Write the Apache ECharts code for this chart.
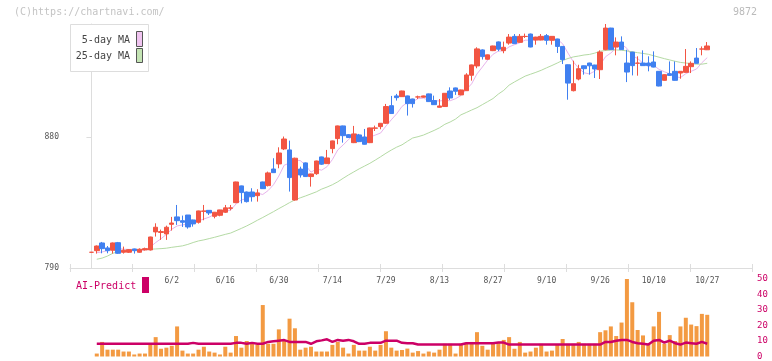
<!DOCTYPE html>
<html><head><meta charset="utf-8">
<script src="https://cdn.jsdelivr.net/npm/echarts@6/dist/echarts.min.js"></script>
<style>html,body{margin:0;padding:0;background:#fff;}#c{width:772px;height:361px;}</style>
</head><body><div id="c"></div>
<script>
const dates = ['5/12','5/13','5/14','5/15','5/16','5/19','5/20','5/21','5/22','5/23','5/26','5/27','5/28','5/29','5/30',
'6/2','6/3','6/4','6/5','6/6','6/9','6/10','6/11','6/12','6/13','6/16','6/17','6/18','6/19','6/20','6/23','6/24','6/25','6/26','6/27','6/30',
'7/1','7/2','7/3','7/4','7/7','7/8','7/9','7/10','7/11','7/14','7/15','7/16','7/17','7/18','7/22','7/23','7/24','7/25','7/28','7/29','7/30','7/31',
'8/1','8/4','8/5','8/6','8/7','8/8','8/12','8/13','8/14','8/15','8/18','8/19','8/20','8/21','8/22','8/25','8/26','8/27','8/28','8/29',
'9/1','9/2','9/3','9/4','9/5','9/8','9/9','9/10','9/11','9/12','9/16','9/17','9/18','9/19','9/22','9/24','9/25','9/26','9/29','9/30',
'10/1','10/2','10/3','10/6','10/7','10/8','10/9','10/10','10/14','10/15','10/16','10/17','10/20','10/21','10/22','10/23','10/24','10/27'];
const opens = [800.8,801.9,807.2,803.8,802.2,807.4,800.8,800.8,803.1,800.8,802.4,802.4,814.8,814.4,813.4,820.0,825.1,822.5,826.4,823.0,
821.4,828.9,829.6,825.5,826.2,828.3,831.0,834.9,846.4,842.2,842.2,839.7,849.1,846.6,858.0,861.5,871.8,871.1,836.7,858.0,
862.2,852.8,854.8,866.3,861.7,872.0,878.9,887.6,881.6,876.1,881.4,880.0,876.1,886.0,887.1,889.4,901.5,908.2,907.7,908.2,
906.1,907.5,907.3,909.6,905.0,900.4,900.9,911.6,913.7,908.9,911.8,922.4,928.8,939.8,933.4,939.3,945.3,939.3,944.5,949.1,
945.0,949.0,950.7,946.6,946.6,949.6,946.4,947.3,942.2,929.6,911.8,919.8,928.9,930.8,929.4,926.2,940.0,954.8,941.8,945.2,
930.8,938.3,930.6,930.8,930.8,931.5,925.1,918.9,923.5,925.1,923.9,924.4,928.3,934.2,940.4,939.9];
const closes = [800.8,805.1,803.3,801.9,807.2,800.1,802.2,802.6,801.9,802.9,803.3,811.3,818.0,815.0,818.0,820.9,822.5,821.4,818.2,820.3,
829.2,829.2,827.8,828.3,829.9,831.3,831.3,849.1,841.8,835.6,839.0,841.6,844.5,855.3,855.5,869.0,878.6,852.1,865.4,853.9,
852.8,854.6,863.5,861.3,865.6,877.3,887.6,880.9,879.6,882.1,876.8,875.0,886.2,886.2,889.4,900.9,896.1,907.0,911.6,902.9,
902.9,907.5,908.2,904.3,902.2,901.3,910.0,906.8,911.4,912.3,922.6,929.5,940.5,935.2,936.4,942.5,940.3,941.6,948.6,944.1,
949.1,949.1,941.8,948.6,949.1,946.4,949.1,942.2,933.1,917.0,916.6,926.9,926.9,928.9,926.7,938.3,954.8,940.0,945.2,940.0,
924.6,929.0,930.8,929.0,929.0,928.0,915.0,922.8,922.3,918.9,925.1,928.5,930.6,930.6,940.4,942.5];
const lows = [800.5,799.9,800.1,800.1,799.9,799.7,799.9,800.3,799.9,800.5,802.0,802.0,811.6,809.3,809.3,815.7,819.6,818.2,817.0,818.4,
820.5,822.8,826.4,824.1,825.5,827.8,829.6,834.5,834.4,835.0,835.6,835.6,844.3,846.0,855.3,858.5,871.0,842.5,836.3,852.1,
852.5,845.9,854.0,860.8,861.5,868.8,875.0,876.1,879.3,875.8,876.5,874.8,875.8,884.1,885.3,889.0,895.9,905.0,907.5,894.7,
900.2,906.1,907.0,904.1,902.0,900.2,900.6,905.4,908.9,908.7,911.6,918.7,927.2,933.2,933.0,939.0,938.9,937.5,943.4,943.9,
944.8,948.0,941.6,943.4,946.4,943.4,943.4,937.7,930.1,905.6,911.3,918.9,922.8,922.8,920.5,919.8,939.5,939.8,936.1,939.8,
917.7,922.3,922.1,928.8,925.1,927.8,914.8,918.7,922.1,918.7,920.0,924.2,923.9,930.4,936.1,939.7];
const highs = [801.0,805.5,807.9,805.1,807.5,807.9,804.7,803.0,803.3,803.5,804.0,811.5,820.7,816.4,819.1,825.1,833.3,826.0,826.4,823.2,
829.4,833.3,829.8,828.5,830.0,833.3,833.3,849.3,846.6,842.5,844.8,844.1,849.3,856.2,865.4,872.9,880.3,877.5,865.8,859.6,
862.5,854.8,863.7,866.5,871.1,877.5,887.8,887.8,882.0,887.6,882.1,885.5,886.4,887.8,889.6,902.7,908.2,909.6,911.8,908.4,
906.3,908.4,908.4,909.8,908.4,906.1,910.2,914.1,913.9,912.5,923.8,929.7,941.6,940.2,936.6,942.7,945.6,945.5,950.7,950.7,
950.7,951.0,951.0,948.8,950.7,950.7,949.3,947.5,942.4,929.8,932.4,929.6,929.1,931.0,929.6,939.5,957.6,955.0,948.4,949.1,
939.9,938.5,935.4,939.5,935.4,938.8,925.3,923.0,931.9,931.9,925.3,940.4,931.9,941.1,942.2,945.2];
const ma5 = ['-',800.5,801.0,802.0,803.7,803.5,802.9,802.8,802.8,801.9,802.6,804.4,807.5,810.1,813.1,816.6,818.9,819.6,820.2,820.7,
822.3,823.7,824.9,827.0,828.9,829.3,829.7,834.0,836.7,837.8,839.4,841.4,840.5,843.2,847.2,853.2,860.6,862.1,864.1,863.8,
860.6,855.8,858.0,857.2,859.6,864.5,871.1,874.5,878.2,881.5,881.4,878.9,879.9,881.3,882.7,887.5,891.8,895.9,901.0,903.7,
904.1,906.4,906.6,905.2,905.0,904.7,905.2,904.9,906.3,908.4,912.6,916.5,923.3,928.0,932.8,936.8,939.0,939.2,941.9,943.4,
944.7,946.5,946.5,946.5,947.5,947.0,947.0,947.1,944.0,937.6,931.6,927.2,924.1,923.3,925.2,929.5,935.1,937.7,941.0,943.7,
940.9,935.8,933.9,930.7,928.5,929.2,926.4,924.8,923.4,921.4,920.8,923.5,925.1,926.7,931.0,934.5];
const ma25 = ['-',796.0,796.8,798.2,800.1,801.2,802.0,802.5,802.6,802.7,802.8,802.9,803.1,803.3,803.6,804.2,804.7,805.2,806.2,807.5,
808.6,809.3,810.2,811.1,812.1,813.1,814.0,815.6,817.2,818.9,820.8,822.8,824.7,826.7,828.7,830.8,832.8,834.9,836.8,838.2,
839.5,840.9,842.3,844.2,845.6,847.2,849.2,851.6,853.9,856.0,858.1,860.0,861.9,864.1,866.4,868.8,871.0,873.0,874.6,877.0,
879.3,880.2,881.3,882.9,884.5,886.3,888.7,890.3,892.3,895.2,896.8,898.5,900.1,902.2,904.3,906.4,909.5,912.0,915.6,917.8,
919.8,921.8,923.1,924.4,925.8,927.5,929.1,930.8,932.6,933.9,935.0,935.6,936.3,936.7,937.6,938.9,939.4,939.7,939.8,939.6,
939.1,938.5,937.9,937.4,936.8,935.8,934.8,933.8,932.9,932.0,931.2,930.8,930.4,930.0,930.0,930.6];
const volume = ['-',1.9,9.4,4.4,4.4,4.4,3.2,3.2,1.3,1.9,1.9,7.5,12.5,5.0,5.7,6.9,19.4,3.8,1.9,1.9,
4.4,6.3,3.2,2.5,1.3,6.3,2.5,13.2,5.7,10.0,8.2,7.5,33.2,8.2,8.2,17.5,10.0,24.4,18.2,4.4,
5.7,6.3,3.2,3.2,3.2,7.5,9.4,5.7,1.9,7.5,3.8,3.8,6.3,3.8,7.5,16.3,5.7,3.8,4.2,5.1,
2.5,3.5,1.9,3.2,2.5,4.4,8.2,8.2,1.9,8.2,8.2,9.4,15.7,6.9,4.4,8.2,8.8,10.7,12.5,5.0,
9.4,2.5,3.2,5.7,8.2,3.2,3.8,7.5,11.3,8.2,8.2,9.4,8.2,8.2,8.2,15.7,16.9,19.4,13.2,21.9,
50.0,35.0,17.1,13.6,8.2,19.4,28.8,8.2,13.8,10.0,19.4,25.0,20.6,19.6,27.5,26.9];
const aiPredict = ['-',8.2,8.2,8.2,8.2,8.2,8.2,8.2,8.2,8.2,8.2,8.2,8.2,8.2,8.2,8.2,8.2,8.2,8.2,8.8,
8.2,8.2,8.2,8.2,8.2,8.2,8.2,8.8,8.8,8.2,8.8,8.2,8.2,9.4,9.8,10.2,10.6,9.4,9.4,9.4,
9.4,8.2,9.8,10.4,11.1,9.4,10.7,10.2,10.7,9.8,8.2,8.2,8.8,8.8,8.8,10.2,10.2,10.2,8.8,8.6,
8.6,7.7,7.7,7.7,7.7,7.7,7.7,7.7,7.7,7.7,8.6,8.6,8.6,8.6,8.6,8.6,9.0,9.0,7.7,7.7,
7.7,7.7,7.7,7.7,7.7,7.7,7.7,7.7,7.7,7.7,7.7,7.7,7.7,7.7,7.7,7.7,9.4,9.4,10.2,10.7,
10.7,9.4,8.6,8.2,7.7,10.2,10.7,9.0,10.2,8.6,7.7,9.0,8.6,8.2,9.4,8.2];
const dateLabelIdx = [15,25,35,45,55,65,75,85,95,105,115];
const priceTicks = [790, 880];
const subTicks = [0,10,20,30,40,50];

const MONO = "'DejaVu Sans Mono', monospace";
const RED = '#f25543', BLUE = '#4080f0', CRIMSON = '#cc0066';
const XMIN = -4, XMAX = 123.36;

const chart = echarts.init(document.getElementById('c'), null, {renderer: 'canvas'});
const candleData = dates.map((d, i) => [i, opens[i], closes[i], lows[i], highs[i]]);
const pair = arr => arr.map((v, i) => [i, v]);

chart.setOption({
  animation: false,
  backgroundColor: '#fff',
  grid: [
    {left: 70, right: 20, top: 24, bottom: 93},
    {left: 70, right: 20, top: 279, bottom: 2}
  ],
  xAxis: [
    {gridIndex: 0, type: 'value', min: XMIN, max: XMAX, position: 'bottom',
     axisLine: {show: true, lineStyle: {color: '#dddddd', width: 1}},
     axisTick: {show: false}, splitLine: {show: false},
     axisLabel: {customValues: dateLabelIdx, formatter: v => dates[Math.round(v)] || '',
       color: '#555', fontSize: 8, fontFamily: MONO, margin: 9}},
    {gridIndex: 0, type: 'value', min: 0, max: 11, interval: 1, position: 'bottom',
     axisLine: {show: false}, axisLabel: {show: false}, splitLine: {show: false},
     axisTick: {show: true, length: 4, lineStyle: {color: '#dddddd'}}},
    {gridIndex: 0, type: 'value', min: 0, max: 11, interval: 1, position: 'bottom',
     axisLine: {show: false}, axisLabel: {show: false}, splitLine: {show: false},
     axisTick: {show: true, inside: true, length: 4, lineStyle: {color: '#dddddd'}}},
    {gridIndex: 1, type: 'value', min: XMIN, max: XMAX, show: false}
  ],
  yAxis: [
    {gridIndex: 0, type: 'value', min: 790, max: 'dataMax', position: 'left',
     axisLine: {show: true, lineStyle: {color: '#dddddd'}},
     axisTick: {show: true, length: 5, customValues: priceTicks, lineStyle: {color: '#dddddd'}},
     axisLabel: {customValues: priceTicks, color: '#555', fontSize: 8, fontFamily: MONO, margin: 11},
     splitLine: {show: false}},
    {gridIndex: 0, type: 'value', min: 790, max: 'dataMax', position: 'left',
     axisLine: {show: false}, axisLabel: {show: false}, splitLine: {show: false},
     axisTick: {show: true, inside: true, length: 4, customValues: priceTicks, lineStyle: {color: '#dddddd'}}},
    {gridIndex: 1, type: 'value', min: 0, max: 50, position: 'right',
     axisLine: {show: false}, axisTick: {show: false}, splitLine: {show: false},
     axisLabel: {customValues: subTicks, color: CRIMSON, fontSize: 9, fontFamily: MONO, margin: 5}}
  ],
  series: [
    {name: '5-day MA', type: 'line', xAxisIndex: 0, yAxisIndex: 0, data: pair(ma5), symbol: 'none',
     lineStyle: {color: '#e8b4ec', width: 1}, z: 2},
    {name: '25-day MA', type: 'line', xAxisIndex: 0, yAxisIndex: 0, data: pair(ma25), symbol: 'none',
     lineStyle: {color: '#b4daa4', width: 1}, z: 2},
    {name: 'price', type: 'candlestick', xAxisIndex: 0, yAxisIndex: 0, data: candleData, barWidth: 5, z: 3,
     itemStyle: {color: RED, color0: BLUE, borderColor: RED, borderColor0: BLUE, borderWidth: 1}},
    {name: 'volume', type: 'bar', xAxisIndex: 3, yAxisIndex: 2, data: pair(volume), barWidth: 4,
     itemStyle: {color: '#f39a42'}, z: 2},
    {name: 'AI-Predict', type: 'line', xAxisIndex: 3, yAxisIndex: 2, data: pair(aiPredict), symbol: 'none',
     lineStyle: {color: CRIMSON, width: 2.5}, z: 3}
  ],
  graphic: [
    {type: 'text', x: 14, y: 12, style: {text: '(C)https://chartnavi.com/', fill: '#c4c4c4', font: '10px ' + MONO, textAlign: 'left', textVerticalAlign: 'middle', align: 'left', verticalAlign: 'middle'}},
    {type: 'text', x: 757, y: 12, style: {text: '9872', fill: '#bbbbbb', font: '10px ' + MONO, textAlign: 'right', textVerticalAlign: 'middle', align: 'right', verticalAlign: 'middle'}},
    {type: 'rect', shape: {x: 70.5, y: 24.5, width: 78, height: 47}, style: {fill: '#fff', stroke: '#dddddd', lineWidth: 1}, z: 10},
    {type: 'text', x: 130, y: 40, style: {text: '5-day MA', fill: '#444', font: '10px ' + MONO, textAlign: 'right', textVerticalAlign: 'middle', align: 'right', verticalAlign: 'middle'}, z: 11},
    {type: 'text', x: 130, y: 56, style: {text: '25-day MA', fill: '#444', font: '10px ' + MONO, textAlign: 'right', textVerticalAlign: 'middle', align: 'right', verticalAlign: 'middle'}, z: 11},
    {type: 'rect', shape: {x: 136.5, y: 31.5, width: 6, height: 15}, style: {fill: '#f0c4f0', stroke: '#555', lineWidth: 1}, z: 11},
    {type: 'rect', shape: {x: 136.5, y: 48.5, width: 6, height: 14}, style: {fill: '#c4e4b4', stroke: '#555', lineWidth: 1}, z: 11},
    {type: 'text', x: 76, y: 286, style: {text: 'AI-Predict', fill: CRIMSON, font: '10px ' + MONO, textAlign: 'left', textVerticalAlign: 'middle', align: 'left', verticalAlign: 'middle'}},
    {type: 'rect', shape: {x: 142, y: 277, width: 7, height: 16}, style: {fill: CRIMSON}}
  ]
});
</script></body></html>
